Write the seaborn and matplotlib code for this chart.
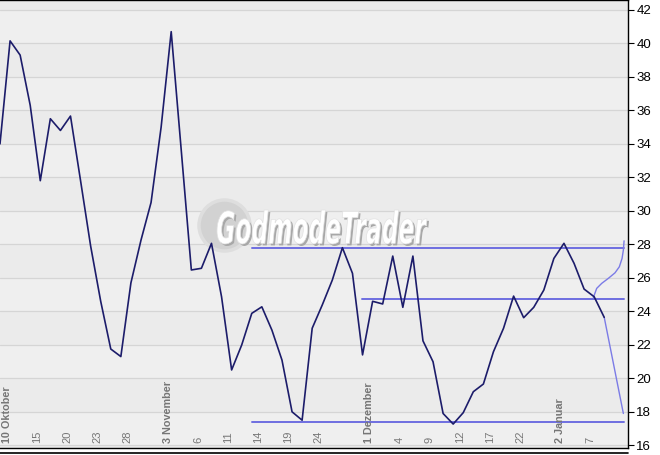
import numpy as np
import pandas as pd
import matplotlib
matplotlib.use("Agg")
import matplotlib.pyplot as plt
from matplotlib.lines import Line2D
from matplotlib.textpath import TextPath
from matplotlib.patches import PathPatch
from matplotlib.font_manager import FontProperties
from matplotlib.transforms import Affine2D
import seaborn as sns

# daily closes, one per trading day starting 9 Oct
values = [34.0, 40.15, 39.3, 36.3, 31.8, 35.5, 34.8, 35.66, 31.8, 27.9,
          24.6, 21.75, 21.3, 25.7, 28.25, 30.5, 35.0, 40.7, 33.6, 26.47,
          26.57, 28.06, 24.87, 20.5, 21.99, 23.88, 24.27, 22.88, 21.09, 18.0,
          17.5, 22.99, 24.38, 25.87, 27.8, 26.27, 21.4, 24.6, 24.44, 27.3,
          24.24, 27.3, 22.24, 20.99, 17.9, 17.27, 17.95, 19.2, 19.66, 21.59,
          22.99, 24.91, 23.62, 24.24, 25.27, 27.16, 28.06, 26.87, 25.33, 24.87,
          23.64]

tick_pos = [1, 4, 7, 10, 13, 17, 20, 23, 26, 29, 32, 37, 40, 43, 46, 49, 52, 56, 59]
tick_labels = ["10 Oktober", "15", "20", "23", "28", "3 November", "6", "11", "14",
               "19", "24", "1 Dezember", "4", "9", "12", "17", "22", "2 Januar", "7"]

# support / resistance lines: level, start index, end index
levels = [27.76, 24.73, 17.37]
level_start = [25.0, 35.9, 25.0]
level_end = [61.97, 61.97, 61.97]

# projected move
proj_x = [60, 61.9]
proj_y = [23.64, 17.9]
arc_x = [58.92, 59.25, 59.75, 60.41, 61.07, 61.5, 61.77, 61.9, 61.97]
arc_y = [24.82, 25.37, 25.67, 25.97, 26.30, 26.66, 27.16, 27.66, 28.21]

df = pd.DataFrame({"day": np.arange(len(values)), "value": values})

sns.set_style("white")
plt.rcParams['font.family'] = ['Liberation Sans', 'DejaVu Sans']

W, H = 660, 455
fig = plt.figure(figsize=(W / 100, H / 100), dpi=100)
fig.patch.set_facecolor("white")
ax = fig.add_axes([0, 1 - 448 / H, 628 / W, 448 / H])

ax.set_xlim(0, 62.36)
ax.set_ylim(15.84, 42.59)

# alternating bands + grid
ax.set_facecolor("#efefef")
for k, lo in enumerate(range(14, 44, 2)):
    if k % 2 == 0:
        ax.axhspan(lo, lo + 2, color="#ebebeb", lw=0, zorder=0)
    ax.axhline(lo, color="#d5d5d5", lw=0.9, zorder=0.5)

# watermark: grey disc + condensed italic logo text
ax.scatter([224 / 628], [1 - 225 / 448], s=1350, color="#d2d2d2", transform=ax.transAxes,
           zorder=1, edgecolors="#dedede", linewidths=2.5)
tp = TextPath((0, 0), "GodmodeTrader", size=40,
              prop=FontProperties(family="DejaVu Sans", weight="bold", style="italic"))
bb = tp.get_extents()
box_x0, box_x1, box_top, box_bot = 217, 427, 210, 244
sx = (box_x1 - box_x0) / bb.width
sy = (box_bot - box_top) / bb.height


def logo_tf(dx, dy):
    return (Affine2D().translate(-bb.x0, -bb.y0).scale(sx, sy)
            .translate(box_x0 + dx, H - box_bot - dy))


ax.add_artist(PathPatch(tp, transform=logo_tf(2, 2), facecolor="#a8a8a8",
                        edgecolor="none", zorder=1.4))
ax.add_artist(PathPatch(tp, transform=logo_tf(0, 0), facecolor="white",
                        edgecolor="#e2e2e2", lw=0.5, zorder=1.5))

for lv, x0, x1 in zip(levels, level_start, level_end):
    ax.plot([x0, x1], [lv, lv], color="#6e6ee0", lw=1.4, zorder=2)

ax.plot(proj_x, proj_y, color="#7b7be6", lw=1.0, zorder=2)
ax.plot(arc_x, arc_y, color="#7b7be6", lw=1.0, zorder=2)

sns.lineplot(data=df, x="day", y="value", ax=ax, color="#1c1c6a", lw=1.2, zorder=3)

# date labels inside the plot
for p, lab in zip(tick_pos, tick_labels):
    bold = not lab.isdigit()
    ax.text(p - 0.35, 0.011, lab, transform=ax.get_xaxis_transform(), rotation=90,
            ha="center", va="bottom", fontsize=7.8 if bold else 8, color="#767676",
            fontweight="bold" if bold else "normal", zorder=4)

ax.set_xlabel("")
ax.set_ylabel("")
ax.yaxis.tick_right()
ax.set_yticks(range(16, 43, 2))
ax.tick_params(axis="y", direction="out", length=4, width=0.8, labelsize=9.5,
               colors="black", pad=2)
ax.set_xticks(range(0, 63))
ax.set_xticklabels([])
ax.tick_params(axis="x", direction="in", length=3, width=0.8, colors="black")

for side in ["top", "right", "bottom"]:
    ax.spines[side].set_color("black")
    ax.spines[side].set_linewidth(1.0)
ax.spines["left"].set_visible(False)

fig.add_artist(Line2D([0, 628 / W], [1 - 452.5 / H] * 2, transform=fig.transFigure,
                      color="black", lw=1.2))

fig.savefig("out.png", dpi=100)
